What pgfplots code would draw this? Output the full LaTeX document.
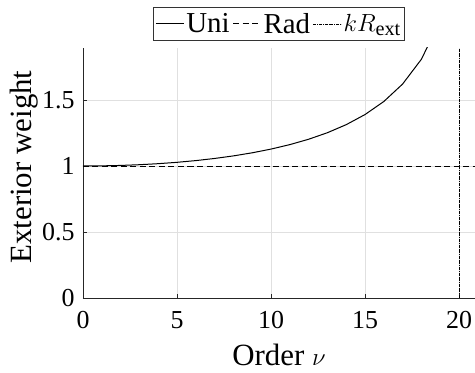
\documentclass[border=0pt]{standalone}
\usepackage{fontspec}
\setmainfont{Liberation Serif}
\usepackage{pgfplots}
\pgfplotsset{compat=1.18}
\begin{document}
\begin{tikzpicture}
\begin{axis}[
  scale only axis, width=392bp, height=250bp,
  xmin=0, xmax=20.85, ymin=0, ymax=1.894,
  axis lines*=left,
  axis line style={color=black!85, line width=0.6pt},
  xtick={0,5,10,15,20}, ytick={0,0.5,1,1.5},
  grid=major, major grid style={black!12, line width=0.5pt},
  tick align=inside, major tick length=4bp,
  tick style={black!85, line width=0.6pt},
  tick label style={font=\fontsize{26}{26}\selectfont},
  xticklabel style={yshift=-10bp},
  yticklabel style={xshift=-5bp},
  /pgf/number format/assume math mode=true,
  xlabel={Order $\nu$}, ylabel={Exterior weight},
  label style={font=\fontsize{31}{31}\selectfont},
  xlabel style={at={(rel axis cs:0.5,0)}, anchor=base, yshift=-67bp},
  ylabel style={at={(rel axis cs:0,0.5)}, anchor=base, yshift=51.5bp, xshift=6bp},
  legend style={at={(0.5,1.028)}, anchor=south, legend columns=-1,
    draw=black!80, line width=0.6pt, font=\fontsize{29}{29}\selectfont,
    inner xsep=2bp, inner ysep=4bp,
    /tikz/every even column/.append style={column sep=1bp}},
  legend image code/.code={\draw[#1] (0bp,0bp) -- (28bp,0bp);},
]
\addplot[black, line width=1pt] coordinates {
(0,1) (1,1.0011) (2,1.0043) (3,1.0098) (4,1.0176) (5,1.0279) (6,1.0410)
(7,1.0571) (8,1.0766) (9,1.1000) (10,1.1282) (11,1.1620) (12,1.2027)
(13,1.2522) (14,1.3132) (15,1.3898) (16,1.4886) (17,1.6210) (18,1.8090) (19,2.1023)
};
\addlegendentry{Uni}
\addplot[black, line width=1pt, dash pattern=on 6bp off 3.5bp] coordinates {(0,1) (20.85,1)};
\addlegendentry{Rad}
\addplot[black, line width=0.5pt, dash pattern=on 3bp off 1bp on 0.6bp off 1bp] coordinates {(20,0) (20,1.894)};
\addlegendentry{$kR_{\mathrm{ext}}$}
\coordinate (A) at (rel axis cs:0,0);
\coordinate (B) at (rel axis cs:1,1);
\end{axis}
\pgfresetboundingbox
\path[use as bounding box] ([shift={(-83bp,-75bp)}]A) rectangle ([shift={(0bp,48bp)}]B);
\end{tikzpicture}
\end{document}
